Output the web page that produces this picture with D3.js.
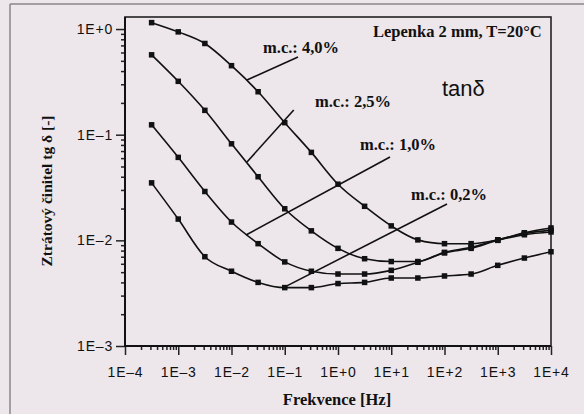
<!DOCTYPE html>
<html>
<head>
<meta charset="utf-8">
<script src="https://cdn.jsdelivr.net/npm/d3@7"></script>
<style>
  html, body { margin: 0; padding: 0; background: #ede6ea; }
  svg { display: block; }
  .serif { font-family: "Liberation Serif", "Times New Roman", serif; font-weight: bold; }
  .sans { font-family: "Liberation Sans", Arial, sans-serif; }
</style>
</head>
<body>
<svg id="chart" width="584" height="414"></svg>
<script>
// --- DATA ---
const freqs = [3.16e-4, 1e-3, 3.16e-3, 1e-2, 3.16e-2, 0.1, 0.316, 1, 3.16, 10, 31.6, 100, 316, 1000, 3162, 10000];
const mc40 = [1.15, 0.94, 0.73, 0.45, 0.255, 0.13, 0.068, 0.034, 0.021, 0.0137, 0.0101, 0.0093, 0.0093, 0.0101, 0.0118, 0.0131];
const mc25 = [0.57, 0.32, 0.17, 0.082, 0.040, 0.0199, 0.0123, 0.0084, 0.0067, 0.0063, 0.0063, 0.0077, 0.0086, 0.0101, 0.0116, 0.0125];
const mc10 = [0.124, 0.061, 0.029, 0.0149, 0.0093, 0.00625, 0.0051, 0.0048, 0.0048, 0.0052, 0.0062, 0.0076, 0.0084, 0.0100, 0.0113, 0.0120];
const mc02 = [0.035, 0.0159, 0.0070, 0.0051, 0.0040, 0.00357, 0.00357, 0.0039, 0.0040, 0.0044, 0.0044, 0.0046, 0.0048, 0.0058, 0.0068, 0.0078];

const seriesNames = ["m.c.: 4,0%", "m.c.: 2,5%", "m.c.: 1,0%", "m.c.: 0,2%"];
const seriesValues = [mc40, mc25, mc10, mc02];

const xTickValues = [1e-4, 1e-3, 1e-2, 1e-1, 1e0, 1e1, 1e2, 1e3, 1e4];
const xTickLabels = ["1E\u20134", "1E\u20133", "1E\u20132", "1E\u20131", "1E+0", "1E+1", "1E+2", "1E+3", "1E+4"];
const yTickValues = [1e-3, 1e-2, 1e-1, 1e0];
const yTickLabels = ["1E\u20133", "1E\u20132", "1E\u20131", "1E+0"];

// label anchors and leader lines, in data coordinates [freq, value]
const labelAnchors = [[10 ** -1.408, 10 ** -0.227], [10 ** -0.432, 10 ** -0.738], [10 ** 0.413, 10 ** -1.145], [10 ** 1.371, 10 ** -1.618]];
const leaderStarts = [[10 ** -1.709, 10 ** -0.4825], [10 ** -1.709, 10 ** -1.258], [10 ** -1.728, 10 ** -1.949], [10 ** -1.033, 10 ** -2.450]];
const leaderEnds = [[10 ** -0.751, 10 ** -0.265], [10 ** -0.831, 10 ** -0.766], [10 ** 0.977, 10 ** -1.211], [10 ** 2.047, 10 ** -1.656]];

const titleText = "Lepenka 2 mm, T=20\u00b0C";
const titleAnchor = [10 ** 0.657, 10 ** -0.076];
const tanText = "tan\u03b4";
const tanAnchor = [10 ** 1.953, 10 ** -0.634];

// --- CHART ---
const svg = d3.select("#chart");

// outer border (top and left edges visible)
svg.append("line").attr("x1", 10).attr("x2", 584).attr("y1", 4).attr("y2", 4)
  .attr("stroke", "#8a8688").attr("stroke-width", 1.5);
svg.append("line").attr("x1", 10).attr("x2", 10).attr("y1", 4).attr("y2", 414)
  .attr("stroke", "#8a8688").attr("stroke-width", 1.5);

const plotLeft = 125, plotRight = 551, plotTop = 17, plotBottom = 346;

const x = d3.scaleLog().domain([1e-4, 1e4]).range([plotLeft, plotRight]);
const y = d3.scaleLog().domain([1e-3, 1.3]).range([plotBottom, plotTop]);

// frame
svg.append("rect").attr("x", plotLeft).attr("y", plotTop)
  .attr("width", plotRight - plotLeft).attr("height", plotBottom - plotTop)
  .attr("fill", "none").attr("stroke", "#222").attr("stroke-width", 1.6);

// minor ticks
const minorX = [];
for (let e = -4; e < 4; e++) for (let m = 2; m <= 9; m++) minorX.push(m * 10 ** e);
const minorY = [];
for (let e = -3; e < 0; e++) for (let m = 2; m <= 9; m++) minorY.push(m * 10 ** e);

const xAxisG = svg.append("g").attr("transform", `translate(0,${plotBottom})`);
xAxisG.append("g").call(d3.axisBottom(x).tickValues(minorX).tickSize(4).tickFormat(""));
xAxisG.append("g").call(d3.axisBottom(x).tickValues(xTickValues).tickSize(9).tickPadding(12)
  .tickFormat((d, i) => xTickLabels[i]));

const yAxisG = svg.append("g").attr("transform", `translate(${plotLeft},0)`);
yAxisG.append("g").call(d3.axisLeft(y).tickValues(minorY).tickSize(4).tickFormat(""));
yAxisG.append("g").call(d3.axisLeft(y).tickValues(yTickValues).tickSize(9).tickPadding(3)
  .tickFormat((d, i) => yTickLabels[i]));

svg.selectAll(".domain").remove();
svg.selectAll(".tick line").attr("stroke", "#222").attr("stroke-width", 1.5);
svg.selectAll(".tick text").attr("class", "sans").attr("fill", "#111")
  .style("font-size", "14px").style("letter-spacing", "0.8px");

// thicker left and bottom axis lines
svg.append("line").attr("x1", plotLeft).attr("x2", plotLeft).attr("y1", plotTop).attr("y2", plotBottom + 1)
  .attr("stroke", "#111").attr("stroke-width", 2);
svg.append("line").attr("x1", plotLeft - 1).attr("x2", plotRight).attr("y1", plotBottom).attr("y2", plotBottom)
  .attr("stroke", "#111").attr("stroke-width", 2);

// curves
const line = d3.line().x(d => x(d[0])).y(d => y(d[1])).curve(d3.curveMonotoneX);
seriesValues.forEach((vals, si) => {
  const pts = freqs.map((f, i) => [f, vals[i]]);
  svg.append("path").datum(pts).attr("d", line)
    .attr("fill", "none").attr("stroke", "#111").attr("stroke-width", 1.6);
  svg.append("g").selectAll("rect").data(pts).join("rect")
    .attr("x", d => x(d[0]) - 2.75).attr("y", d => y(d[1]) - 2.75)
    .attr("width", 5.5).attr("height", 5.5).attr("fill", "#111");
});

// leader lines + labels
seriesNames.forEach((name, i) => {
  svg.append("line")
    .attr("x1", x(leaderStarts[i][0])).attr("y1", y(leaderStarts[i][1]))
    .attr("x2", x(leaderEnds[i][0])).attr("y2", y(leaderEnds[i][1]))
    .attr("stroke", "#111").attr("stroke-width", 1.6);
  svg.append("text").attr("class", "serif")
    .attr("x", x(labelAnchors[i][0])).attr("y", y(labelAnchors[i][1]))
    .style("font-size", "16.5px").attr("fill", "#111").text(name);
});

svg.append("text").attr("class", "serif")
  .attr("x", x(titleAnchor[0])).attr("y", y(titleAnchor[1]))
  .style("font-size", "16.5px").attr("fill", "#111").text(titleText);

svg.append("text").attr("class", "sans")
  .attr("x", x(tanAnchor[0])).attr("y", y(tanAnchor[1]))
  .style("font-size", "22px").attr("fill", "#111").text(tanText);

// axis titles
svg.append("text").attr("class", "serif")
  .attr("x", (plotLeft + plotRight) / 2 - 1).attr("y", 405)
  .attr("text-anchor", "middle").style("font-size", "16.5px").attr("fill", "#111")
  .text("Frekvence [Hz]");

svg.append("text").attr("class", "serif")
  .attr("transform", `translate(52,191) rotate(-90)`)
  .attr("text-anchor", "middle").style("font-size", "15.5px").attr("fill", "#111")
  .text("Ztrátový činitel tg δ [-]");
</script>
</body>
</html>
